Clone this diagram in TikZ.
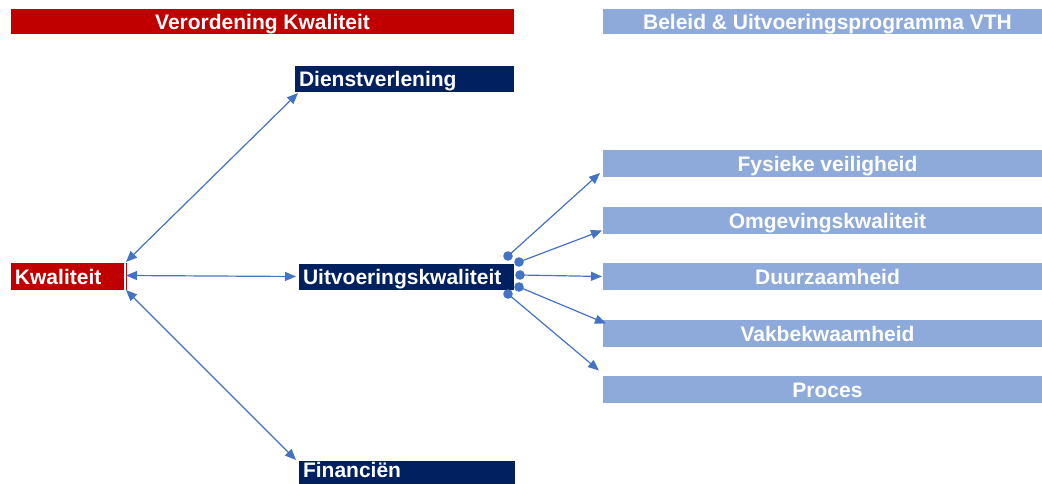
\documentclass[tikz,border=0pt]{standalone}
\usepackage{fontspec}
\setmainfont{Liberation Sans}
\usetikzlibrary{arrows.meta}
\definecolor{kred}{HTML}{C00000}
\definecolor{knavy}{HTML}{002060}
\definecolor{klight}{HTML}{8EAADB}
\definecolor{karrow}{HTML}{4472C4}
\begin{document}
\begin{tikzpicture}[x=1pt,y=-1pt,
  box/.style={rectangle, inner sep=0pt, outer sep=0pt, text=white,
    font=\fontsize{21}{24}\selectfont\bfseries, text height=16pt, text depth=0pt},
  redbox/.style={box, fill=kred},
  navybox/.style={box, fill=knavy},
  lightbox/.style={box, fill=klight},
  conn/.style={draw=karrow, line width=1.2pt, -{Triangle[length=11pt,width=9pt]}},
  dconn/.style={conn, {Triangle[length=11pt,width=9pt]}-{Triangle[length=11pt,width=9pt]}},
  dot/.style={fill=karrow}]
\useasboundingbox (0,0) rectangle (1042,484);
% headers
\node[redbox, minimum width=503pt, minimum height=25pt] (hred) at (262.5,21.5) {Verordening Kwaliteit};
\node[lightbox, minimum width=449pt, minimum height=25pt] (hblue) at (827.5,21.5) {Beleid \& Uitvoeringsprogramma VTH};
% left column
\node[redbox, minimum width=113pt, minimum height=27pt, text width=105pt, align=left] (kwal) at (67.5,276.5) {Kwaliteit};
\draw[kred, line width=0.8pt] ([shift={(2,0)}]kwal.north east) -- ([shift={(2,0)}]kwal.south east);
% middle column
\node[navybox, minimum width=219pt, minimum height=26pt, text width=211pt, align=left] (dienst) at (404.5,79) {Dienstverlening};
\node[navybox, minimum width=215pt, minimum height=26pt, text width=207pt, align=left] (uitv) at (406.5,276.5) {Uitvoeringskwaliteit};
\node[navybox, minimum width=216pt, minimum height=23pt, text width=208pt, align=left, text height=15pt, text depth=6pt] (fin) at (407,472.5) {Financiën};
% right column
\node[lightbox, minimum width=449pt, minimum height=27pt] (fys) at (827.5,163.5) {Fysieke veiligheid};
\node[lightbox, minimum width=449pt, minimum height=27pt] (omg) at (827.5,220) {Omgevingskwaliteit};
\node[lightbox, minimum width=449pt, minimum height=27pt] (duur) at (827.5,276.5) {Duurzaamheid};
\node[lightbox, minimum width=449pt, minimum height=27pt] (vak) at (827.5,333) {Vakbekwaamheid};
\node[lightbox, minimum width=449pt, minimum height=27pt] (proc) at (827.5,389) {Proces};
% left connectors
\draw[dconn] ([shift={(2,-1)}]kwal.north east) -- ([shift={(3,1)}]dienst.south west);
\draw[dconn] ([shift={(2,-1)}]kwal.east) -- ([shift={(-3,0)}]uitv.west);
\draw[dconn] ([shift={(2,0)}]kwal.south east) -- ([shift={(-3,-1)}]fin.north west);
% dots on Uitvoeringskwaliteit
\coordinate (d1) at ([shift={(-6,-20.5)}]uitv.east);
\coordinate (d2) at ([shift={(5,-14.5)}]uitv.east);
\coordinate (d3) at ([shift={(6,-1.5)}]uitv.east);
\coordinate (d4) at ([shift={(5,10.5)}]uitv.east);
\coordinate (d5) at ([shift={(-6,17.5)}]uitv.east);
\draw[conn] (d1) -- ([shift={(-3,-4)}]fys.south west);
\draw[conn] (d2) -- ([shift={(-1,-3)}]omg.south west);
\draw[conn] (d3) -- ([shift={(-1,0)}]duur.west);
\draw[conn] (d4) -- ([shift={(3,4)}]vak.north west);
\draw[conn] (d5) -- ([shift={(-4,-5)}]proc.north west);
\foreach \d in {d1,d2,d3,d4,d5} \fill[dot] (\d) circle (4.8);
\end{tikzpicture}
\end{document}
